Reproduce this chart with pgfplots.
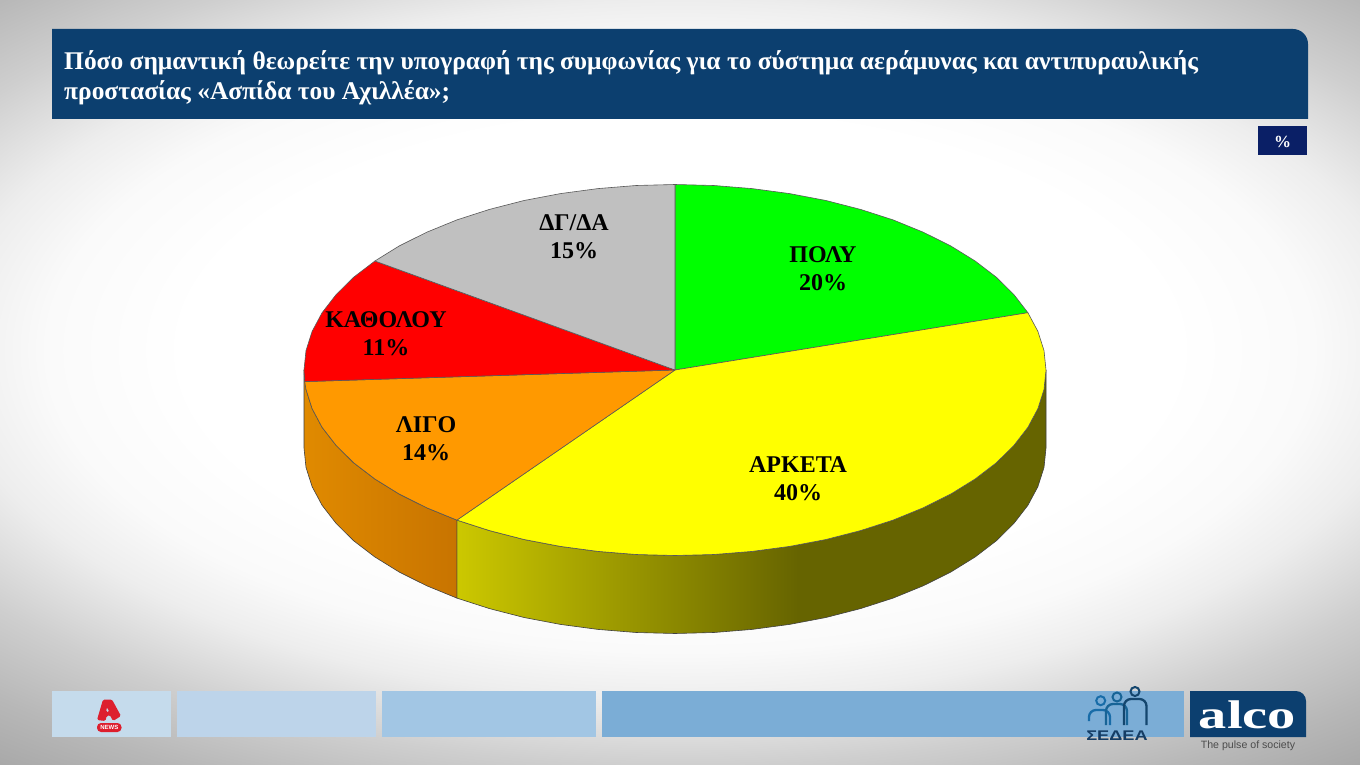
\documentclass[border=0pt]{standalone}
\usepackage{fontspec}
\usepackage{pgfplots}
\pgfplotsset{compat=1.18}
\setmainfont{Liberation Serif}
\newfontfamily\sansf{Liberation Sans}
\definecolor{titleblue}{HTML}{0C3F6F}
\definecolor{pctblue}{HTML}{0A1F66}
\definecolor{yellowA}{HTML}{CCC800}
\definecolor{yellowB}{HTML}{666400}
\definecolor{orangeA}{HTML}{E08A00}
\definecolor{orangeB}{HTML}{C87400}
\definecolor{pureyellow}{rgb}{1,1,0}
\definecolor{alphared}{HTML}{DD1F2E}
\definecolor{gA}{gray}{1}
\definecolor{gB}{gray}{0.98}
\definecolor{gC}{gray}{0.93}
\definecolor{gD}{gray}{0.81}
\definecolor{gE}{gray}{0.72}
\definecolor{gF}{gray}{0.66}
\definecolor{gG}{gray}{0.6}
\pgfdeclareradialshading{bgshade}{\pgfpointorigin}{%
  color(0bp)=(gA); color(14bp)=(gA); color(18bp)=(gB); color(20.8bp)=(gC); color(24.7bp)=(gD); color(28.4bp)=(gE); color(31.4bp)=(gF); color(50bp)=(gG)}
\pgfdeclarehorizontalshading{yellowside}{100bp}{%
  color(0bp)=(yellowA); color(25bp)=(yellowA); color(54bp)=(yellowB); color(100bp)=(yellowB)}
\pgfdeclarehorizontalshading{orangeside}{100bp}{%
  color(0bp)=(orangeA); color(25bp)=(orangeA); color(75bp)=(orangeB); color(100bp)=(orangeB)}
\begin{document}
\begin{tikzpicture}
\useasboundingbox (0,0) rectangle (1360pt,765pt);
\begin{scope}
\clip (0,0) rectangle (1360pt,765pt);
\shade[shading=bgshade] (-200pt,-5pt) rectangle (1560pt,835pt);
\end{scope}
\begin{axis}[at={(0,0)},anchor=south west,scale only axis,width=1360pt,height=765pt,
  xmin=0,xmax=1360,ymin=0,ymax=765,y dir=reverse,hide axis,clip=false,
  every axis plot/.append style={no markers,line width=0.6pt,line join=round}]
% title and % box
\fill[titleblue] (axis cs:52,29) [rounded corners=15pt] -- (axis cs:1308,29) [sharp corners] -- (axis cs:1308,119) -- (axis cs:52,119) -- cycle;
\node[anchor=base west,text=white,font=\fontsize{25.45}{28}\selectfont\bfseries,inner sep=0] at (axis cs:64,70) {Πόσο σημαντική θεωρείτε την υπογραφή της συμφωνίας για το σύστημα αεράμυνας και αντιπυραυλικής};
\node[anchor=base west,text=white,font=\fontsize{25.45}{28}\selectfont\bfseries,inner sep=0] at (axis cs:64,100) {προστασίας «Ασπίδα του Αχιλλέα»;};
\fill[pctblue] (axis cs:1258,126) rectangle (axis cs:1307,155);
\node[text=white,font=\fontsize{17}{19}\selectfont\bfseries,inner sep=0] at (axis cs:1282.5,141.5) {\%};
% side walls
\addplot[draw=black!75,shade,shading=yellowside] coordinates {
(1046,370)(1044,389.4)(1037.9,408.6)(1027.9,427.3)(1013.9,445.4)(996.3,462.8)(975.1,479)(950.7,494.1)(923.2,507.8)(893.1,520.1)(860.5,530.6)(825.9,539.5)(789.6,546.4)(752.1,551.4)(713.8,554.5)(675,555.5)(636.2,554.5)(597.9,551.4)(560.4,546.4)(524.1,539.5)(489.5,530.6)(456.9,520.1)
(456.9,598.1)(489.5,608.6)(524.1,617.5)(560.4,624.4)(597.9,629.4)(636.2,632.5)(675,633.5)(713.8,632.5)(752.1,629.4)(789.6,624.4)(825.9,617.5)(860.5,608.6)(893.1,598.1)(923.2,585.8)(950.7,572.1)(975.1,557)(996.3,540.8)(1013.9,523.4)(1027.9,505.3)(1037.9,486.6)(1044,467.4)(1046,448)(1046,370)};
\addplot[draw=black!75,shade,shading=orangeside] coordinates {
(456.9,520.1)(426.8,507.8)(399.3,494.1)(374.9,479)(353.7,462.8)(336.1,445.4)(322.1,427.3)(312.1,408.6)(306,389.4)(304,370)
(304,448)(306,467.4)(312.1,486.6)(322.1,505.3)(336.1,523.4)(353.7,540.8)(374.9,557)(399.3,572.1)(426.8,585.8)(456.9,598.1)(456.9,520.1)};
% top slices: 20, 40, 14, 11, 15 per cent clockwise from the top
\addplot[fill=green,draw=black!65] coordinates {
(675,370)(675,184.5)(713.8,185.5)(752.1,188.6)(789.6,193.6)(825.9,200.5)(860.5,209.4)(893.1,219.9)(923.2,232.2)(950.7,245.9)(975.1,261)(996.3,277.2)(1013.9,294.6)(1027.9,312.7)(675,370)};
\addplot[fill=pureyellow,draw=black!65] coordinates {
(675,370)(1027.9,312.7)(1037.9,331.4)(1044,350.6)(1046,370)(1044,389.4)(1037.9,408.6)(1027.9,427.3)(1013.9,445.4)(996.3,462.8)(975.1,479)(950.7,494.1)(923.2,507.8)(893.1,520.1)(860.5,530.6)(825.9,539.5)(789.6,546.4)(752.1,551.4)(713.8,554.5)(675,555.5)(636.2,554.5)(597.9,551.4)(560.4,546.4)(524.1,539.5)(489.5,530.6)(456.9,520.1)(675,370)};
\addplot[fill={rgb,255:red,255;green,153;blue,0},draw=black!65] coordinates {
(675,370)(456.9,520.1)(426.8,507.8)(399.3,494.1)(374.9,479)(353.7,462.8)(336.1,445.4)(322.1,427.3)(312.1,408.6)(306,389.4)(304.7,381.6)(675,370)};
\addplot[fill=red,draw=black!65] coordinates {
(675,370)(304.7,381.6)(304,370)(306,350.6)(312.1,331.4)(322.1,312.7)(336.1,294.6)(353.7,277.2)(374.9,261)(675,370)};
\addplot[fill={rgb,255:red,192;green,192;blue,192},draw=black!65] coordinates {
(675,370)(374.9,261)(399.3,245.9)(426.8,232.2)(456.9,219.9)(489.5,209.4)(524.1,200.5)(560.4,193.6)(597.9,188.6)(636.2,185.5)(675,184.5)(675,370)};
% slice labels
\tikzset{lab/.style={font=\fontsize{24}{28}\selectfont\bfseries,align=center,inner sep=0,text=black}}
\node[lab] at (axis cs:823,269) {ΠΟΛΥ\\20\%};
\node[lab] at (axis cs:798,479) {ΑΡΚΕΤΑ\\40\%};
\node[lab] at (axis cs:426,439) {ΛΙΓΟ\\14\%};
\node[lab] at (axis cs:386,334) {ΚΑΘΟΛΟΥ\\11\%};
\node[lab] at (axis cs:574,237) {ΔΓ/ΔΑ\\15\%};
% footer
\fill[fill={rgb,255:red,197;green,219;blue,236}] (axis cs:52,691) rectangle (axis cs:171,737);
\fill[fill={rgb,255:red,189;green,212;blue,234}] (axis cs:177,691) rectangle (axis cs:376,737);
\fill[fill={rgb,255:red,162;green,198;blue,228}] (axis cs:382,691) rectangle (axis cs:596,737);
\fill[fill={rgb,255:red,123;green,173;blue,214}] (axis cs:602,691) rectangle (axis cs:1184,737);
\fill[titleblue] (axis cs:1190,691) [rounded corners=10pt] -- (axis cs:1306,691) [sharp corners] -- (axis cs:1306,737) -- (axis cs:1190,737) -- cycle;
\node[text=white,font=\fontsize{40}{44}\selectfont\bfseries,inner sep=0,anchor=base] at (axis cs:1247.5,728) {\scalebox{1.41}[1]{alco}};
\node[text=black!70,font=\sansf\fontsize{10.6}{12}\selectfont,inner sep=0,anchor=base] at (axis cs:1248,748.5) {The pulse of society};
% Alpha News logo
\fill[alphared,rounded corners=1.5pt,even odd rule] (axis cs:103,699.5) -- (axis cs:112,699.5) -- (axis cs:121,716) -- (axis cs:113,721) -- (axis cs:110,715) -- (axis cs:106.5,716) -- (axis cs:105.5,721) -- (axis cs:97,720) -- cycle (axis cs:107,707) -- (axis cs:109.5,712) -- (axis cs:106,712) -- cycle;
\fill[alphared,rounded corners=4pt] (axis cs:97,723) rectangle (axis cs:121.5,732);
\node[text=white,font=\sansf\fontsize{6}{7}\selectfont\bfseries,inner sep=0] at (axis cs:109.3,727.5) {NEWS};
% SEDEA logo
\draw[line width=2pt,color={rgb,255:red,24;green,108;blue,168}] (axis cs:1100.7,700.7) circle (4.5pt);
\draw[line width=2pt,color={rgb,255:red,24;green,100;blue,150}] (axis cs:1117,697) circle (4.5pt);
\draw[line width=2pt,color={rgb,255:red,20;green,70;blue,110}] (axis cs:1135,691.5) circle (4.5pt);
\draw[line width=2.3pt,color={rgb,255:red,24;green,108;blue,168},rounded corners=7pt] (axis cs:1089,721) -- (axis cs:1089,710) -- (axis cs:1110,710) -- (axis cs:1110,725);
\draw[line width=2.3pt,color={rgb,255:red,24;green,100;blue,150},rounded corners=7pt] (axis cs:1106,725) -- (axis cs:1106,704) -- (axis cs:1127,704) -- (axis cs:1127,725);
\draw[line width=2.3pt,color={rgb,255:red,20;green,70;blue,110},rounded corners=7pt] (axis cs:1124,725) -- (axis cs:1124,699) -- (axis cs:1146.5,699) -- (axis cs:1146.5,725);
\node[text={rgb,255:red,20;green,60;blue,100},font=\sansf\fontsize{14}{16}\selectfont\bfseries,inner sep=0,anchor=base] at (axis cs:1117,740) {\scalebox{1.3}[1]{ΣΕΔΕΑ}};
\end{axis}
\end{tikzpicture}
\end{document}
